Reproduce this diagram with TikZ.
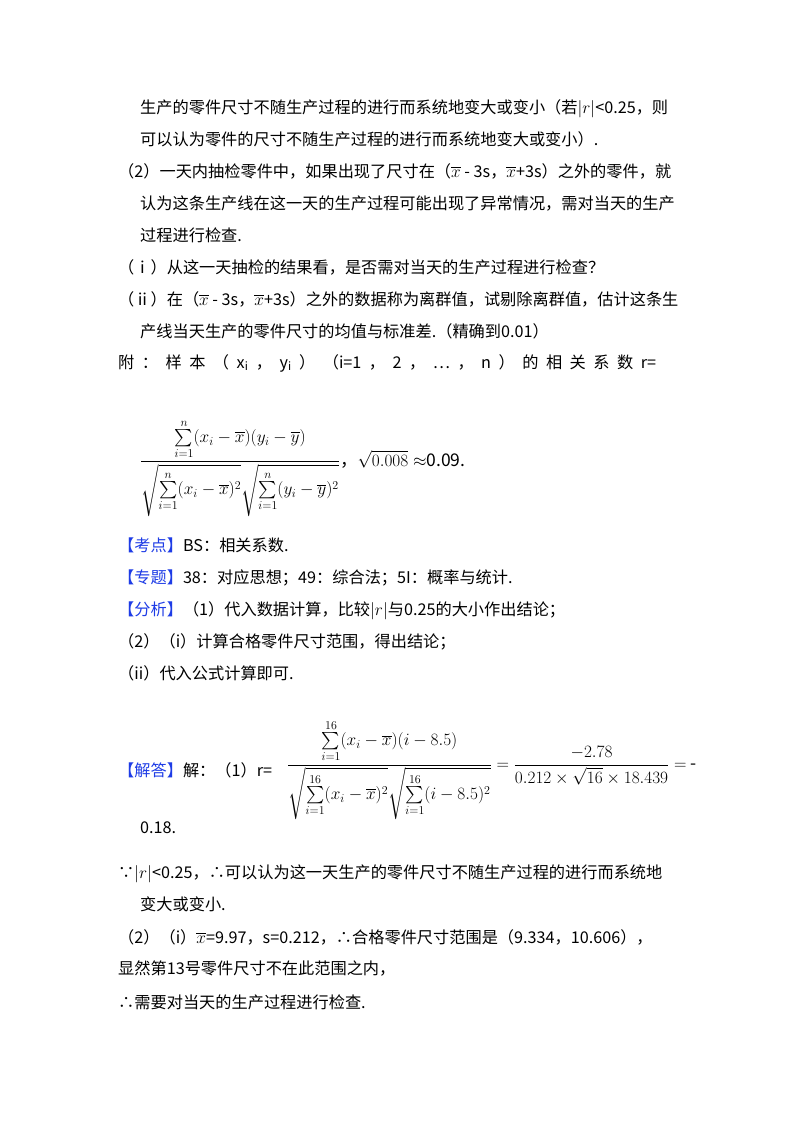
\documentclass[tikz,border=0pt]{standalone}
\usepackage{fontspec}
\usepackage{amsmath}
\setmainfont{Noto Sans CJK SC}
\definecolor{lab}{RGB}{30,60,230}
\newcommand{\gp}{\hspace{7.5pt}}
\begin{document}
\begin{tikzpicture}[x=1pt,y=-1pt,
  t/.style={anchor=base west,inner sep=0pt,font=\fontsize{16.2}{19}\selectfont},
  m/.style={anchor=west,inner sep=0pt,font=\fontsize{17.5}{21}\selectfont}]
\useasboundingbox (0,0) rectangle (800,1132);
\fill[white] (0,0) rectangle (800,1132);
\node[t] (l1) at (140,113) {生产的零件尺寸不随生产过程的进行而系统地变大或变小（若$|r|$<0.25，则};
\node[t] (l2) at (140,145) {可以认为零件的尺寸不随生产过程的进行而系统地变大或变小）.};
\node[t] (l3) at (118,177) {（2）一天内抽检零件中，如果出现了尺寸在（$\overline{x}$ - 3s，$\overline{x}$+3s）之外的零件，就};
\node[t] (l4) at (140,209) {认为这条生产线在这一天的生产过程可能出现了异常情况，需对当天的生产};
\node[t] (l5) at (140,241) {过程进行检查.};
\node[t] (l6) at (118,273) {（ⅰ）从这一天抽检的结果看，是否需对当天的生产过程进行检查？};
\node[t] (l7) at (118,305) {（ⅱ）在（$\overline{x}$ - 3s，$\overline{x}$+3s）之外的数据称为离群值，试剔除离群值，估计这条生};
\node[t] (l8) at (140,337) {产线当天生产的零件尺寸的均值与标准差.（精确到0.01）};
\node[t] (l9) at (118,368) {附\gp：\gp 样\gp 本\gp（\gp x$_\text{i}$\gp，\gp y$_\text{i}$\gp）\gp（i=1\gp，\gp 2\gp，\gp…\gp，\gp n\gp）\gp 的\gp 相\gp 关\gp 系\gp 数\gp r=};
\node[m] (f1) at (140,468) {$\dfrac{\sum\limits_{i=1}^{n}(x_i-\overline{x})(y_i-\overline{y})}{\sqrt{\sum\limits_{i=1}^{n}(x_i-\overline{x})^2}\sqrt{\sum\limits_{i=1}^{n}(y_i-\overline{y})^2}}$，$\sqrt{0.008}\approx$0.09.};
\node[t] (k1) at (118,551) {\textcolor{lab}{【考点】}BS：相关系数.};
\node[t] (k2) at (118,583) {\textcolor{lab}{【专题】}38：对应思想；49：综合法；5I：概率与统计.};
\node[t] (k3) at (118,615) {\textcolor{lab}{【分析】}（1）代入数据计算，比较$|r|$与0.25的大小作出结论；};
\node[t] (k4) at (118,647) {（2）（i）计算合格零件尺寸范围，得出结论；};
\node[t] (k5) at (118,679) {（ii）代入公式计算即可.};
\node[t] (j0) at (118,776) {\textcolor{lab}{【解答】}解：（1）r=};
\node[m] (f2) at (287,770) {$\dfrac{\sum\limits_{i=1}^{16}(x_i-\overline{x})(i-8.5)}{\sqrt{\sum\limits_{i=1}^{16}(x_i-\overline{x})^2}\sqrt{\sum\limits_{i=1}^{16}(i-8.5)^2}}=\dfrac{-2.78}{0.212\times\sqrt{16}\times18.439}=$ -};
\node[t] (j1) at (140,833) {0.18.};
\node[t] (j2) at (118,878) {∵$|r|$<0.25，∴可以认为这一天生产的零件尺寸不随生产过程的进行而系统地};
\node[t] (j3) at (140,910) {变大或变小.};
\node[t] (j4) at (118,943) {（2）（i）$\overline{x}$=9.97，s=0.212，∴合格零件尺寸范围是（9.334，10.606），};
\node[t] (j5) at (118,974) {显然第13号零件尺寸不在此范围之内，};
\node[t] (j6) at (118,1008) {∴需要对当天的生产过程进行检查.};
\end{tikzpicture}
\end{document}
